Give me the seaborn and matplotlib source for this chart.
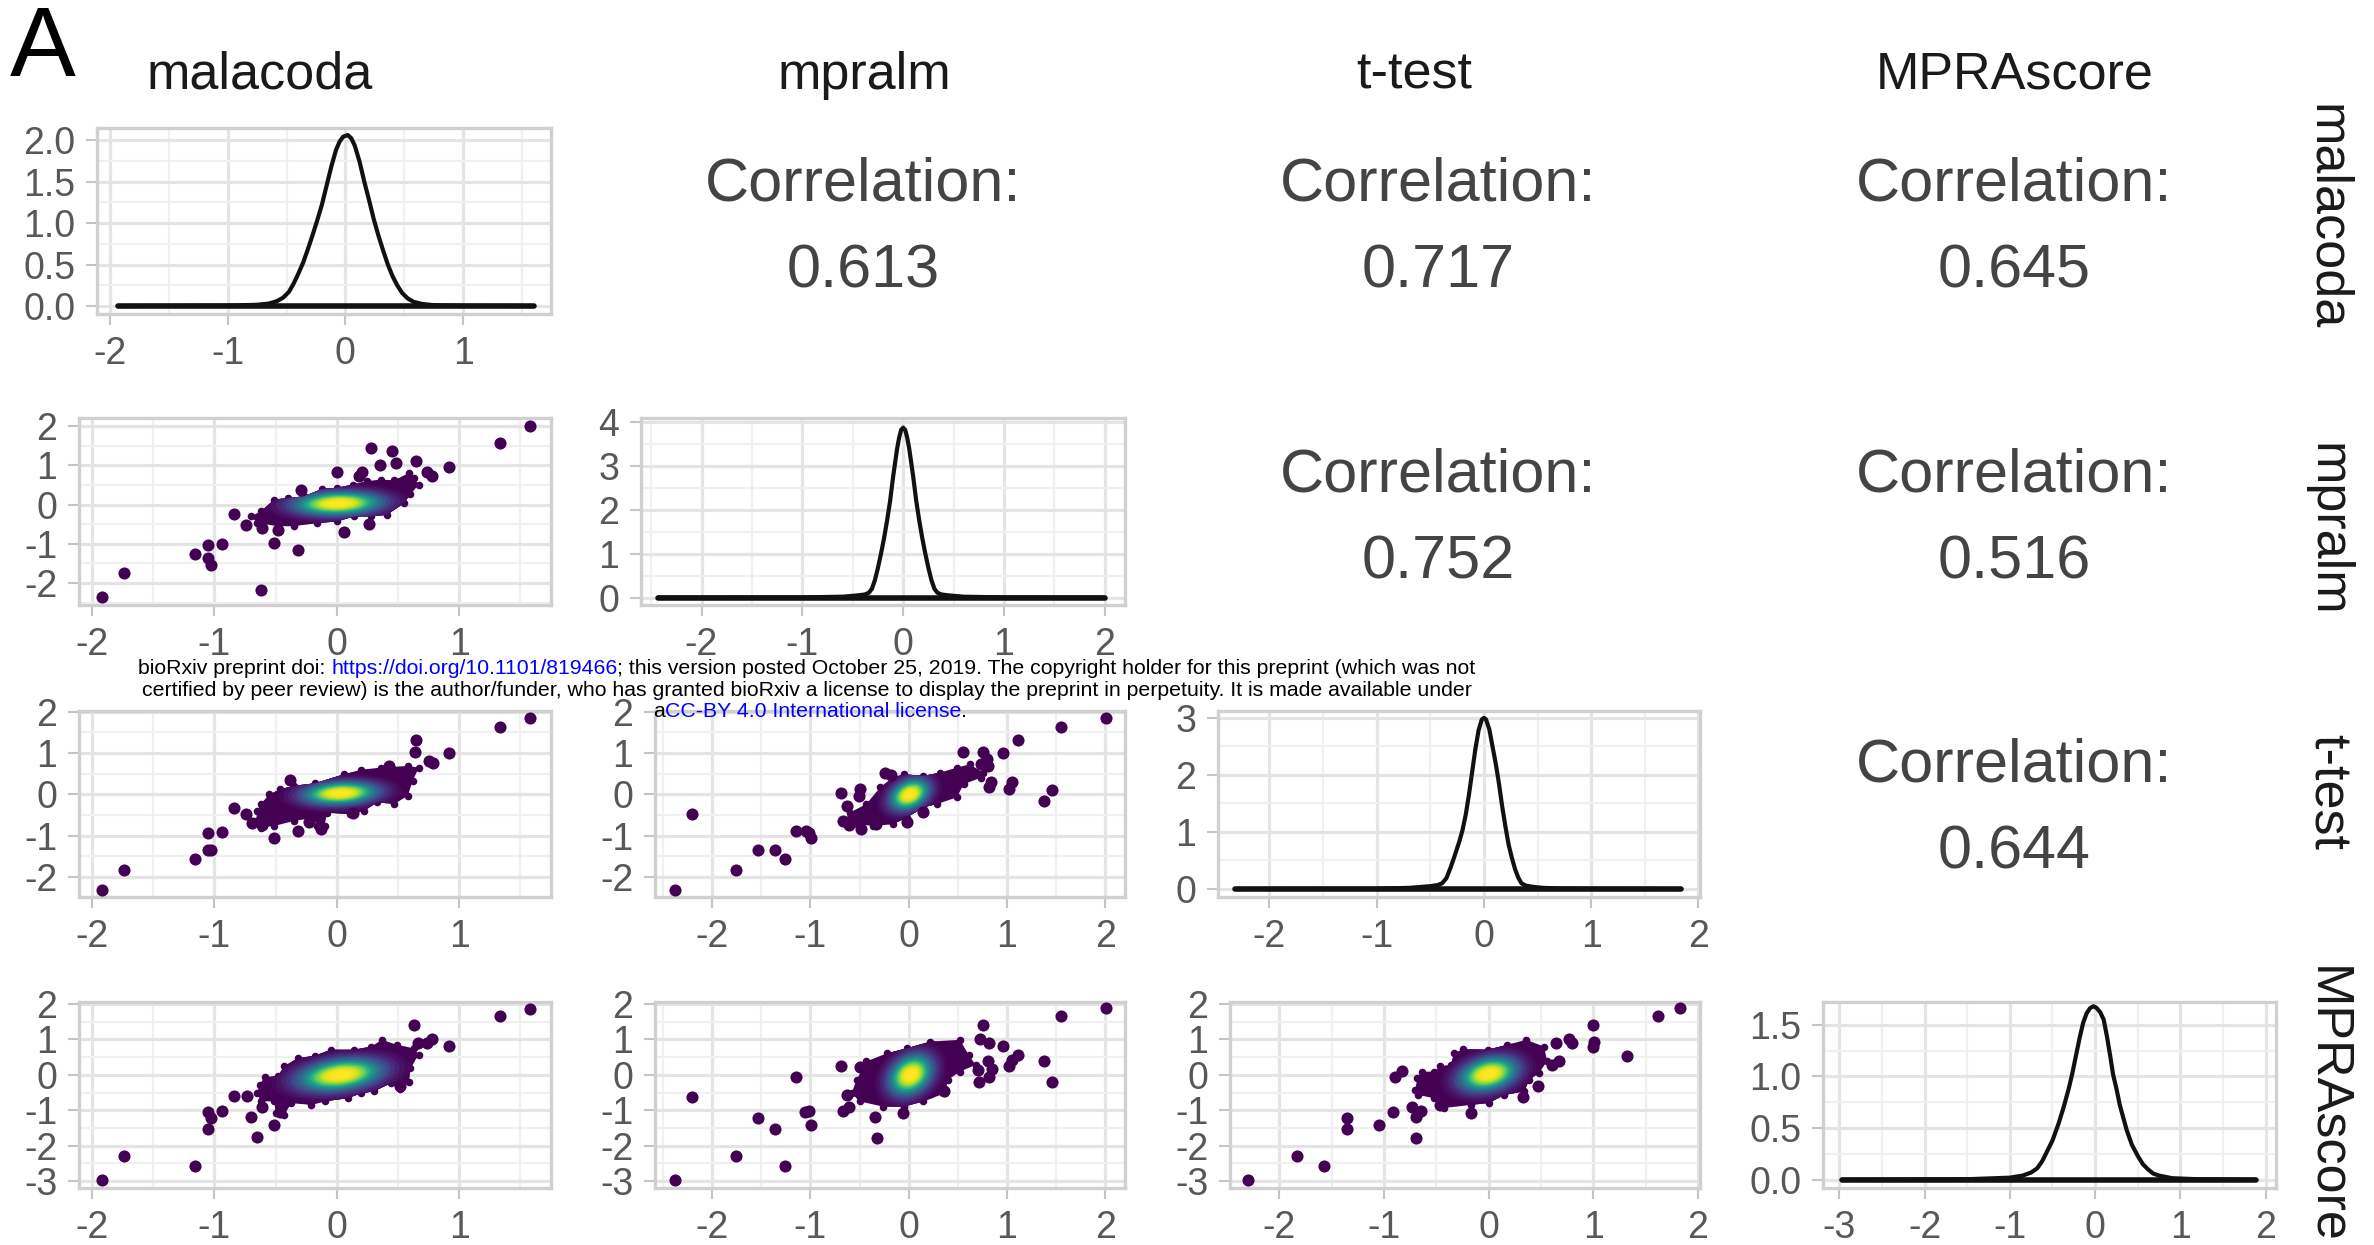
import numpy as np
import pandas as pd
import matplotlib
matplotlib.use("Agg")
import matplotlib.pyplot as plt
import seaborn as sns
from matplotlib.patches import Ellipse
from matplotlib.transforms import Affine2D
from matplotlib.ticker import AutoMinorLocator

sns.set_style("white")
plt.rcParams['font.family'] = ['Liberation Sans', 'DejaVu Sans']

W, H = 2374, 1245
methods = ["malacoda", "mpralm", "t-test", "MPRAscore"]
corr_m_mp, corr_m_t, corr_m_s, corr_mp_t, corr_mp_s, corr_t_s = "0.613", "0.717", "0.645", "0.752", "0.516", "0.644"

# density curves
d11_x = [-1.93,-1,-.75,-.65,-.58,-.53,-.48,-.44,-.40,-.36,-.32,-.28,-.24,-.20,-.16,-.12,-.08,-.05,-.02,.02,.05,.08,.12,.16,.20,.24,.28,.32,.36,.40,.44,.48,.53,.58,.65,.75,1,1.6]
d11_y = [0,.005,.015,.03,.06,.1,.17,.27,.39,.52,.68,.85,1.03,1.22,1.45,1.68,1.88,1.98,2.04,2.06,2.02,1.93,1.74,1.5,1.28,1.05,.85,.67,.5,.36,.25,.16,.09,.05,.025,.01,.003,0]
d22_x = [-2.43,-1,-.6,-.45,-.38,-.34,-.31,-.28,-.25,-.22,-.19,-.16,-.13,-.10,-.08,-.06,-.04,-.02,0,.02,.04,.06,.08,.10,.13,.16,.19,.22,.25,.28,.31,.34,.38,.45,.6,1,2]
d22_y = [0,.003,.02,.05,.07,.11,.2,.4,.68,1.0,1.35,1.75,2.2,2.75,3.08,3.4,3.65,3.83,3.88,3.83,3.65,3.4,3.08,2.75,2.2,1.75,1.35,1.0,.68,.4,.2,.11,.07,.05,.02,.003,0]
d33_x = [-2.32,-1,-.7,-.5,-.43,-.39,-.35,-.31,-.27,-.23,-.2,-.17,-.14,-.11,-.08,-.05,-.02,0,.02,.05,.08,.11,.14,.17,.2,.23,.26,.29,.32,.35,.39,.45,.55,.7,1,1.84]
d33_y = [0,.005,.02,.05,.07,.1,.19,.38,.6,.83,1.03,1.3,1.65,2.05,2.45,2.78,2.97,3.0,2.97,2.8,2.5,2.2,1.85,1.45,1.1,.78,.55,.35,.2,.1,.06,.04,.02,.01,.003,0]
d44_x = [-2.97,-1.5,-1,-.85,-.75,-.68,-.62,-.56,-.5,-.43,-.37,-.31,-.27,-.22,-.18,-.14,-.1,-.06,-.02,.02,.06,.1,.14,.18,.21,.25,.29,.33,.37,.43,.5,.56,.62,.68,.75,.9,1.2,1.88]
d44_y = [0,.005,.02,.04,.07,.11,.18,.28,.38,.54,.7,.88,1.02,1.22,1.38,1.52,1.61,1.66,1.68,1.66,1.62,1.55,1.38,1.18,1.02,.88,.72,.6,.48,.34,.23,.15,.1,.06,.04,.015,.005,0]

# isolated points
s21_x = [-1.92,-1.74,-1.16,-1.05,-.94,-1.05,-1.03,-.62,-.51,-.32,-.84,-.74,-.61,-.48,.06,.26,-.29,0,.28,.45,.35,.48,.65,.92,1.33,1.58,.74,.78,.21,.18]
s21_y = [-2.36,-1.74,-1.25,-1.04,-1.0,-1.36,-1.53,-2.19,-.99,-1.15,-.24,-.53,-.6,-.65,-.69,-.49,.37,.83,1.45,1.38,1.02,1.05,1.11,.95,1.56,2.0,.83,.73,.83,.72]
s31_x = [-1.92,-1.74,-1.16,-1.05,-1.03,-1.05,-.94,-.51,-.32,-.13,-.84,-.74,-.69,-.61,-.38,.65,.64,.92,.75,.79,1.33,1.58,.43,.13,-.23]
s31_y = [-2.30,-1.83,-1.57,-1.35,-1.35,-.92,-.91,-1.06,-.89,-.83,-.33,-.48,-.69,-.74,.35,1.33,1.02,1.01,.81,.76,1.63,1.84,.69,-.44,-.66]
s41_x = [-1.92,-1.74,-1.16,-1.05,-1.03,-1.05,-.94,-.84,-.73,-.70,-.65,-.51,-.61,-.46,.63,.66,.74,.78,.92,1.33,1.58,.52]
s41_y = [-2.97,-2.29,-2.58,-1.54,-1.23,-1.04,-1.03,-.59,-.59,-1.19,-1.77,-1.43,-.92,-1.06,1.41,.91,.91,1.02,.82,1.65,1.87,-.31]
s32_x = [-2.38,-2.20,-1.76,-1.53,-1.36,-1.26,-1.15,-1.04,-1.01,-.99,-.69,-.51,-.50,-.63,-.67,-.61,-.48,-.24,-.18,.15,.55,.76,.96,1.11,1.55,2.01,.80,.81,.74,.84,.82,1.05,1.02,1.46,1.38,-.02,-.33]
s32_y = [-2.30,-.47,-1.83,-1.35,-1.34,-1.57,-.89,-.89,-.94,-1.06,.03,-.03,.13,-.27,-.65,-.74,-.84,.51,.47,-.42,1.02,1.02,1.01,1.33,1.63,1.84,.85,.68,.73,.31,.17,.31,.13,.11,-.15,-.66,-.72]
s42_x = [-2.38,-2.20,-1.76,-1.53,-1.36,-1.26,-1.15,-1.05,-1.01,-.99,-.69,-.67,-.61,-.63,-.34,-.32,-.06,-.50,.76,.73,.82,.96,1.11,1.05,1.02,1.38,1.46,1.55,2.01,.81,.85,.82,.72,.71,.36]
s42_y = [-2.97,-.63,-2.29,-1.23,-1.54,-2.58,-.05,-1.04,-1.03,-1.43,.26,-1.01,-.92,-.57,-1.19,-1.78,-1.08,.21,1.41,1.01,.90,.82,.56,.41,.26,.38,-.19,1.65,1.88,.38,.16,-.05,-.19,.14,-.47]
s43_x = [-2.30,-1.83,-1.57,-1.35,-1.35,-1.05,-.91,-.89,-.83,-.73,-.65,-.69,-.69,-.17,.33,.47,.67,.61,.64,.77,.80,1.0,1.01,1.0,1.32,1.62,1.83,-.46]
s43_y = [-2.97,-2.29,-2.58,-1.23,-1.54,-1.43,-1.04,-.05,.11,-.92,-1.01,-1.19,-1.78,-1.08,-.63,-.31,.40,.28,.91,1.02,.90,1.40,.92,.80,.54,1.65,1.88,-.85]

# outline of each dense cloud
b21_x = [-.70,-.62,-.51,-.40,-.27,-.12,0,.13,.25,.36,.47,.59,.63,.67,.60,.55,.41,.28,.14,0,-.16,-.35,-.48,-.65]
b21_y = [-.30,-.17,.13,.17,.21,.40,.43,.51,.60,.64,.62,.81,.68,.51,.26,.04,-.26,-.30,-.30,-.43,-.47,-.55,-.55,-.47]
b31_x = [-.65,-.62,-.55,-.46,-.35,-.18,.06,.20,.36,.58,.67,.62,.58,.47,.33,.22,.11,-.08,-.10,-.16,-.18,-.35,-.51,-.62,-.66]
b31_y = [-.40,-.23,.01,.13,.21,.27,.49,.60,.65,.69,.65,.33,-.03,-.23,-.19,-.40,-.48,-.44,-.76,-.76,-.56,-.64,-.76,-.80,-.64]
b41_x = [-.63,-.59,-.48,-.43,-.32,-.18,-.05,.14,.28,.37,.49,.63,.67,.60,.59,.52,.44,.30,.20,.09,-.10,-.21,-.37,-.43,-.50,-.51,-.62,-.65]
b41_y = [-.28,-.07,-.03,.24,.47,.54,.71,.71,.80,.99,.85,.75,.57,.19,-.19,-.41,-.24,-.47,-.52,-.66,-.75,-.85,-.80,-1.13,-1.08,-.75,-.75,-.52]
b32_x = [-.60,-.43,-.29,-.16,-.05,.15,.32,.49,.62,.76,.74,.56,.49,.29,.15,-.02,-.16,-.36,-.53,-.61]
b32_y = [-.44,-.23,.17,.41,.49,.45,.53,.65,.73,.53,.41,.25,-.07,-.23,-.31,-.56,-.72,-.76,-.72,-.60]
b42_x = [-.58,-.53,-.43,-.22,-.02,.22,.52,.61,.68,.52,.40,.37,.15,-.05,-.26,-.50]
b42_y = [-.52,-.14,.38,.61,.75,.94,.99,.57,.28,.09,-.14,-.52,-.75,-.90,-.90,-.75]
b43_x = [-.70,-.68,-.64,-.52,-.46,-.36,-.33,-.24,-.01,.18,.36,.53,.56,.48,.39,.34,.15,0,-.17,-.43,-.52,-.67]
b43_y = [-.42,-.09,.09,.09,.24,.28,.61,.73,.71,.85,.99,.80,.38,.05,-.14,-.47,-.57,-.80,-.85,-.94,-.66,-.57]

# centre x, centre y, half width, half height, tilt of the density gradient
g21, g31, g41 = (.01,.03,.65,.55,.10), (.03,.03,.55,.50,.15), (.03,0,.62,.80,.40)
g32, g42, g43 = (.01,0,.36,.65,.60), (.02,0,.40,1.0,.70), (0,.02,.50,.85,.50)
level_size = [1.0,.92,.85,.78,.72,.66,.61,.56,.51,.47,.43,.39,.35,.31,.27,.24,.21,.18,.15,.12]
level_tone = [0.0,.02,.05,.09,.14,.2,.26,.33,.41,.48,.56,.65,.74,.82,.89,.93,.96,.98,.99,1.0]

# axis limits and tick values
x_m, xl_m = [-2,-1,0,1], ["-2","-1","0","1"]
x_o, xl_o = [-2,-1,0,1,2], ["-2","-1","0","1","2"]
x_s, xl_s = [-3,-2,-1,0,1,2], ["-3","-2","-1","0","1","2"]
y_2, yl_2 = [-2,-1,0,1,2], ["-2","-1","0","1","2"]
y_3, yl_3 = [-3,-2,-1,0,1,2], ["-3","-2","-1","0","1","2"]

panels = [
    dict(px=(97,128,551,314), xlim=(-2.11,1.746), ylim=(-.096,2.145), xt=(x_m,xl_m), yt=([0,.5,1,1.5,2],["0.0","0.5","1.0","1.5","2.0"]), d=(d11_x,d11_y)),
    dict(px=(79,418,551,605), xlim=(-2.106,1.75), ylim=(-2.56,2.21), xt=(x_m,xl_m), yt=(y_2,yl_2), s=(s21_x,s21_y), b=(b21_x,b21_y), g=g21),
    dict(px=(641,418,1125,605), xlim=(-2.6,2.2), ylim=(-.17,4.1), xt=(x_o,xl_o), yt=([0,1,2,3,4],["0","1","2","3","4"]), d=(d22_x,d22_y)),
    dict(px=(79,711,551,897), xlim=(-2.106,1.75), ylim=(-2.48,2.02), xt=(x_m,xl_m), yt=(y_2,yl_2), s=(s31_x,s31_y), b=(b31_x,b31_y), g=g31),
    dict(px=(655,711,1125,897), xlim=(-2.58,2.2), ylim=(-2.48,2.02), xt=(x_o,xl_o), yt=(y_2,yl_2), s=(s32_x,s32_y), b=(b32_x,b32_y), g=g32),
    dict(px=(1218,711,1700,897), xlim=(-2.48,2.015), ylim=(-.14,3.12), xt=(x_o,xl_o), yt=([0,1,2,3],["0","1","2","3"]), d=(d33_x,d33_y)),
    dict(px=(79,1002,551,1188), xlim=(-2.106,1.75), ylim=(-3.2,2.06), xt=(x_m,xl_m), yt=(y_3,yl_3), s=(s41_x,s41_y), b=(b41_x,b41_y), g=g41),
    dict(px=(655,1002,1125,1188), xlim=(-2.58,2.2), ylim=(-3.2,2.06), xt=(x_o,xl_o), yt=(y_3,yl_3), s=(s42_x,s42_y), b=(b42_x,b42_y), g=g42),
    dict(px=(1230,1002,1700,1188), xlim=(-2.47,2.02), ylim=(-3.2,2.06), xt=(x_o,xl_o), yt=(y_3,yl_3), s=(s43_x,s43_y), b=(b43_x,b43_y), g=g43),
    dict(px=(1823,1002,2276,1188), xlim=(-3.19,2.12), ylim=(-.08,1.72), xt=(x_s,xl_s), yt=([0,.5,1,1.5],["0.0","0.5","1.0","1.5"]), d=(d44_x,d44_y)),
]

fig = plt.figure(figsize=(W/100, H/100), dpi=100, facecolor="white")
cmap = sns.color_palette("viridis", as_cmap=True)
PURPLE = "#440154"

for p in panels:
    l, t, r, b = p["px"]
    ax = fig.add_axes([l/W, 1-b/H, (r-l)/W, (b-t)/H])
    ax.set_axisbelow(True)
    ax.xaxis.set_minor_locator(AutoMinorLocator(2))
    ax.yaxis.set_minor_locator(AutoMinorLocator(2))
    ax.grid(True, which="major", color="#e4e4e4", lw=2.3)
    ax.grid(True, which="minor", color="#f0f0f0", lw=1.6)
    if "d" in p:
        x, y = p["d"]
        sns.lineplot(x=x, y=y, sort=False, estimator=None, color="#111111", lw=3.0, ax=ax, legend=False)
        sns.lineplot(x=[x[0], x[-1]], y=[0, 0], sort=False, estimator=None, color="#111111", lw=4.0, ax=ax, legend=False)
    else:
        bx, by = p["b"]
        poly = ax.fill(bx, by, color=PURPLE, lw=0, zorder=2)[0]
        sns.scatterplot(x=bx, y=by, color=PURPLE, s=30, linewidth=0, ax=ax, legend=False, zorder=2)
        cx, cy, a, h, tilt = p["g"]
        tr = Affine2D.from_values(1, tilt, 0, 1, cx, cy) + ax.transData
        for size, tone in zip(level_size, level_tone):
            e = Ellipse((0, 0), 2*a*size, 2*h*size, transform=tr, fc=cmap(float(tone)), ec="none", zorder=3)
            ax.add_patch(e)
            e.set_clip_path(poly)
        sx, sy = p["s"]
        sns.scatterplot(x=sx, y=sy, color=PURPLE, s=76, linewidth=0, ax=ax, legend=False, zorder=4)
    ax.set_xlim(*p["xlim"])
    ax.set_ylim(*p["ylim"])
    ax.set_xticks(p["xt"][0], p["xt"][1])
    ax.set_yticks(p["yt"][0], p["yt"][1])
    ax.set_xlabel("")
    ax.set_ylabel("")
    ax.tick_params(axis="both", which="major", length=8, width=1.5, color="#c4c4c4",
                   labelsize=27, labelcolor="#585858", pad=7.5, bottom=True, left=True)
    ax.tick_params(axis="both", which="minor", length=0)
    for sp in ax.spines.values():
        sp.set_visible(True)
        sp.set_color("#d0d0d0")
        sp.set_linewidth(2.4)


def put(x, y, s, **kw):
    return fig.text(x/W, 1-y/H, s, **kw)


for name, x in zip(methods, [260, 864, 1414, 2015]):
    put(x, 75, name, fontsize=37.5, color="#1a1a1a", ha="center", va="center")
for name, y in zip(methods, [217, 530, 792, 1105]):
    put(2327, y, name, fontsize=37.5, color="#1a1a1a", ha="center", va="center", rotation=-90)
put(10, 76, "A", fontsize=71, color="black", ha="left", va="baseline")

corr_cells = [(863, 185, corr_m_mp), (1438, 185, corr_m_t), (2014, 185, corr_m_s),
              (1438, 476, corr_mp_t), (2014, 476, corr_mp_s), (2014, 766, corr_t_s)]
for x, y, v in corr_cells:
    put(x, y, "Correlation:", fontsize=44, color="#444444", ha="center", va="center")
    put(x, y + 87, v, fontsize=44, color="#444444", ha="center", va="center")

# preprint notice, written over the panels
over = fig.add_axes([0, 0, 1, 1], facecolor="none", zorder=20)
over.set_axis_off()
notice_size = 15.33
line1 = [("bioRxiv preprint doi: ", "black"), ("https://doi.org/10.1101/819466", "blue"),
         ("; this version posted October 25, 2019. The copyright holder for this preprint (which was not", "black")]
line2 = [("certified by peer review) is the author/funder, who has granted bioRxiv a license to display the preprint in perpetuity. It is made available under", "black")]
line3 = [("a", "black"), ("CC-BY 4.0 International license", "blue"), (".", "black")]
for parts, x, y in [(line1, 138, 678), (line2, 142, 700), (line3, 653, 721)]:
    prev = None
    for s, c in parts:
        if prev is None:
            prev = over.text(x/W, 1-y/H, s, color=c, fontsize=notice_size, ha="left", va="bottom",
                             transform=over.transAxes)
        else:
            prev = over.annotate(s, xy=(1, 0), xycoords=prev, color=c, fontsize=notice_size,
                                 ha="left", va="bottom")

fig.savefig("out.png", dpi=100, facecolor="white")
